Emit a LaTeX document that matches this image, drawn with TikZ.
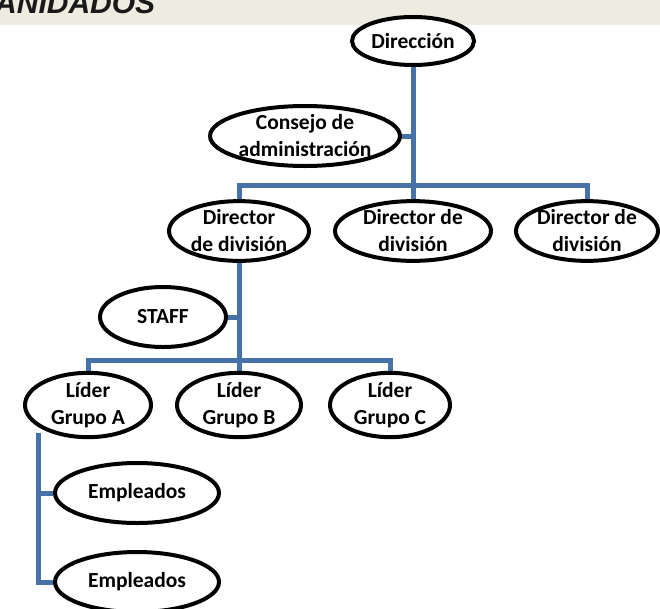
\documentclass[tikz,border=0pt]{standalone}
\usepackage{fontspec}
\setmainfont{Carlito}
\newfontfamily\titlefont{Liberation Sans}
\usetikzlibrary{shapes.geometric}
\definecolor{linkblue}{HTML}{4672A8}
\definecolor{bannercol}{HTML}{EEEBE0}
\pgfdeclarelayer{back}
\pgfsetlayers{back,main}

\begin{document}
\begin{tikzpicture}[x=1pt,y=-1pt,
  unit/.style={ellipse,draw=black,line width=4pt,fill=white,inner sep=0pt,
    align=center,font=\bfseries\fontsize{21.5}{27}\selectfont},
  link/.style={draw=linkblue,line width=5pt}]
  \useasboundingbox (0,0) rectangle (660,608);
  \clip (0,0) rectangle (660,608);

  % Banner
  \fill[bannercol] (0,0) rectangle (660,25);
  \node[anchor=base west,inner sep=0pt,text=black!90,
    font=\titlefont\bfseries\itshape\fontsize{30}{30}\selectfont] (title) at (-5,13) {ANIDADOS};

  % Units
  \node[unit,minimum width=122pt,minimum height=48pt] (dir) at (413,41) {Dirección};
  \node[unit,minimum width=190pt,minimum height=60pt] (cons) at (305,136) {Consejo de\\administración};
  \node[unit,minimum width=140pt,minimum height=58pt] (d1) at (239,231) {Director\\de división};
  \node[unit,minimum width=156pt,minimum height=58pt] (d2) at (413,231) {Director de\\división};
  \node[unit,minimum width=142pt,minimum height=58pt] (d3) at (587,231) {Director de\\división};
  \node[unit,minimum width=126pt,minimum height=60pt] (staff) at (163,317) {STAFF};
  \node[unit,minimum width=126pt,minimum height=60pt] (la) at (88,405) {Líder\\Grupo A};
  \node[unit,minimum width=124pt,minimum height=60pt] (lb) at (239,405) {Líder\\Grupo B};
  \node[unit,minimum width=120pt,minimum height=60pt] (lc) at (390,405) {Líder\\Grupo C};
  \node[unit,minimum width=164pt,minimum height=60pt] (e1) at (137,493) {Empleados};
  \node[unit,minimum width=164pt,minimum height=60pt] (e2) at (137,582) {Empleados};

  % Joints
  \coordinate (jdir) at (413,185);
  \coordinate (jdiv) at (239,360);
  \coordinate (ja) at (38,433);

  % Connectors
  \begin{pgfonlayer}{back}
    \draw[link] (dir.south) -- (d2.north);
    \draw[link] (cons.east) -- (cons.east -| dir.south);
    \draw[link] (d1.north) |- (jdir) -| (d3.north);
    \draw[link] (d1.south) -- (lb.north);
    \draw[link] (staff.east) -- (staff.east -| d1.south);
    \draw[link] (la.north) |- (jdiv) -| (lc.north);
    \draw[link] (ja) |- (e1.west);
    \draw[link] (ja) |- (e2.west);
  \end{pgfonlayer}
\end{tikzpicture}
\end{document}
